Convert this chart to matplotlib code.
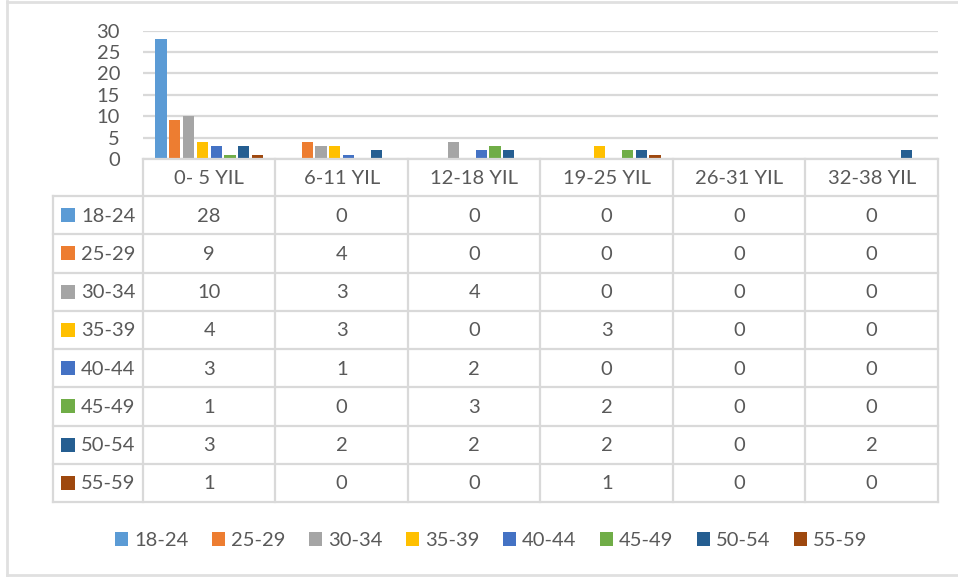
import matplotlib
matplotlib.use("Agg")
import matplotlib.pyplot as plt
from matplotlib.patches import Rectangle
from matplotlib.lines import Line2D
import numpy as np

plt.rcParams['font.family'] = ['Lato', 'DejaVu Sans']

categories = ["0- 5 YIL", "6-11 YIL", "12-18 YIL", "19-25 YIL", "26-31 YIL", "32-38 YIL"]
series_names = ["18-24", "25-29", "30-34", "35-39", "40-44", "45-49", "50-54", "55-59"]
s_18_24 = [28, 0, 0, 0, 0, 0]
s_25_29 = [9, 4, 0, 0, 0, 0]
s_30_34 = [10, 3, 4, 0, 0, 0]
s_35_39 = [4, 3, 0, 3, 0, 0]
s_40_44 = [3, 1, 2, 0, 0, 0]
s_45_49 = [1, 0, 3, 2, 0, 0]
s_50_54 = [3, 2, 2, 2, 0, 2]
s_55_59 = [1, 0, 0, 1, 0, 0]
series_values = [s_18_24, s_25_29, s_30_34, s_35_39, s_40_44, s_45_49, s_50_54, s_55_59]
colors = ["#5B9BD5", "#ED7D31", "#A5A5A5", "#FFC000", "#4472C4", "#70AD47", "#255E91", "#9E480E"]
yticks = [0, 5, 10, 15, 20, 25, 30]

W, H = 958, 577
fig = plt.figure(figsize=(W / 100, H / 100), dpi=100)
TXT = "#595959"
GRID = "#D9D9D9"
FS = 14.5

# plot area (pixel coordinates)
L, R, T, B = 143, 938, 30.5, 159
ax = fig.add_axes([L / W, 1 - B / H, (R - L) / W, (B - T) / H])
n = len(series_names)
slot = 0.104
bw = 0.085
x = np.arange(len(categories))
for i, (vals, c) in enumerate(zip(series_values, colors)):
    ax.bar(x + (i - (n - 1) / 2) * slot, vals, width=bw, color=c, zorder=3)
ax.set_xlim(-0.5, len(categories) - 0.5)
ax.set_ylim(0, 30)
ax.set_yticks(yticks)
ax.set_yticklabels([str(v) for v in yticks], fontsize=FS, color=TXT)
ax.tick_params(axis='y', length=0, pad=16.5)
ax.set_xticks([])
for sp in ax.spines.values():
    sp.set_visible(False)
ax.grid(axis='y', color=GRID, linewidth=1.6, zorder=0)
ax.set_axisbelow(True)

# overlay axes in pixel coordinates for table/legend/border
ov = fig.add_axes([0, 0, 1, 1])
ov.set_xlim(0, W)
ov.set_ylim(H, 0)
ov.axis('off')
ov.patch.set_alpha(0)

lw = 1.6
# outer border
ov.add_line(Line2D([7.5, 7.5], [1, 575], color="#E0E0E0", lw=2))
ov.add_line(Line2D([7.5, W], [1.5, 1.5], color="#E0E0E0", lw=2))
ov.add_line(Line2D([7.5, W], [575, 575], color="#E0E0E0", lw=2))

# table
col_edges = np.linspace(L, R, len(categories) + 1)
top_hdr = 159
hdr_bot = 196
row_h = 38.25
nrows = len(series_names)
tbl_bot = hdr_bot + nrows * row_h
left_col = 53

ov.add_line(Line2D([L, R], [top_hdr, top_hdr], color=GRID, lw=lw))
for k in range(nrows + 1):
    yy = hdr_bot + k * row_h
    ov.add_line(Line2D([left_col, R], [yy, yy], color=GRID, lw=lw))
for xe in col_edges:
    ov.add_line(Line2D([xe, xe], [top_hdr, tbl_bot], color=GRID, lw=lw))
ov.add_line(Line2D([left_col, left_col], [hdr_bot, tbl_bot], color=GRID, lw=lw))

for j, cat in enumerate(categories):
    cx = (col_edges[j] + col_edges[j + 1]) / 2
    ov.text(cx, (top_hdr + hdr_bot) / 2 + 1, cat, ha='center', va='center', fontsize=FS, color=TXT)

for i, (name, vals, c) in enumerate(zip(series_names, series_values, colors)):
    cy = hdr_bot + (i + 0.5) * row_h
    ov.add_patch(Rectangle((61, cy - 7), 14, 14, color=c, lw=0))
    ov.text(81, cy + 1, name, ha='left', va='center', fontsize=FS, color=TXT)
    for j, v in enumerate(vals):
        cx = (col_edges[j] + col_edges[j + 1]) / 2
        ov.text(cx, cy + 1, str(v), ha='center', va='center', fontsize=FS, color=TXT)

# bottom legend
leg_y = 539
x0 = 115
step = 97
for i, (name, c) in enumerate(zip(series_names, colors)):
    xs = x0 + i * step
    ov.add_patch(Rectangle((xs, leg_y - 7), 13, 14, color=c, lw=0))
    ov.text(xs + 19, leg_y + 1, name, ha='left', va='center', fontsize=FS, color=TXT)

fig.savefig("out.png", dpi=100)
